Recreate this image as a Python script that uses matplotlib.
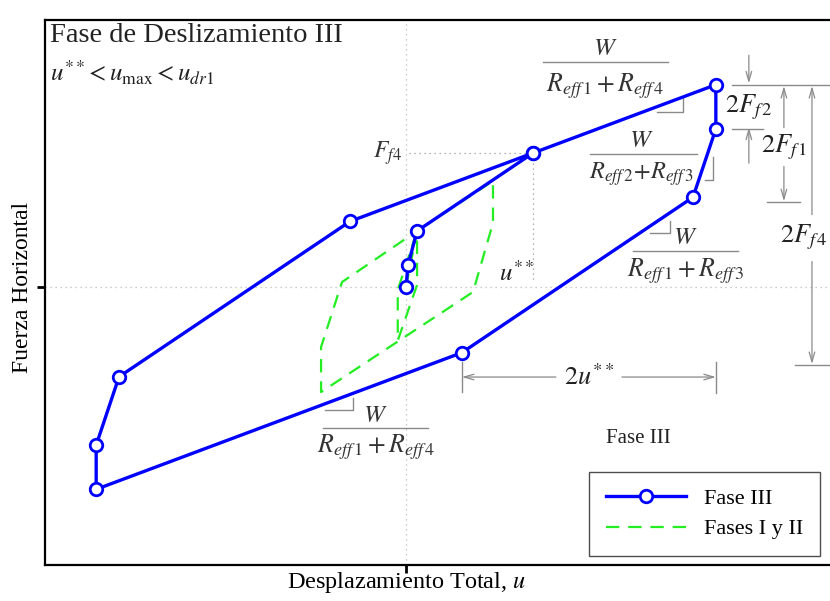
import matplotlib
matplotlib.use("Agg")
import matplotlib.pyplot as plt

plt.rcParams['font.family'] = ['Liberation Serif', 'DejaVu Serif']
plt.rcParams['mathtext.fontset'] = 'stix'

# Phase III loop (u in units of u**, F in units of F_f4)
u_fase3 = [0.0, 0.016, 0.087, 1.0, 2.44, 2.44, 2.26, 0.44, -2.44, -2.44, -2.26, -0.44, 1.0]
f_fase3 = [0.0, 0.164, 0.418, 1.0, 1.51, 1.18, 0.67, -0.49, -1.51, -1.18, -0.67, 0.49, 1.0]

# Phases I and II (green dashed)
u_fase12 = [0.0, 0.087, 0.087, -0.065, -0.065, 0.087, 0.685, 0.685, 0.528, -0.669, -0.669, -0.504, 0.087]
f_fase12 = [0.0, 0.418, 0.015, -0.40, -0.022, 0.418, 0.791, 0.478, -0.037, -0.784, -0.448, 0.037, 0.418]

fig = plt.figure(figsize=(8.30, 6.01), dpi=100)
ax = fig.add_axes([45/830, 36/601, 1 - 45/830, 545/601])
ax.set_xlim(-2.843, 3.339)
ax.set_ylim(-2.075, 1.993)

grey = '#8a8a8a'
blue = '#0000ff'
green = '#22ee22'
txt = '#222222'

# light dotted reference lines
ax.axhline(0, color='#bbbbbb', lw=0.9, ls=(0, (1, 3)), zorder=0)
ax.axvline(0, color='#bbbbbb', lw=0.9, ls=(0, (1, 3)), zorder=0)
ax.plot([0.02, 1.0], [1.0, 1.0], color='#999999', lw=0.9, ls=(0, (1, 3)))
ax.plot([1.0, 1.0], [1.0, 0.05], color='#999999', lw=0.9, ls=(0, (1, 3)))

l12, = ax.plot(u_fase12, f_fase12, color=green, lw=1.6, ls=(0, (6, 4)), label='Fases I y II', zorder=2)
l3, = ax.plot(u_fase3, f_fase3, color=blue, lw=2.4, marker='o', ms=9, mfc='white', mec=blue, mew=2.0,
              label='Fase III', zorder=3)

# spines / ticks
for s in ['left', 'bottom', 'top']:
    ax.spines[s].set_linewidth(1.6)
ax.spines['right'].set_visible(False)
ax.set_xticks([0])
ax.set_yticks([0])
ax.set_xticklabels([])
ax.set_yticklabels([])
ax.tick_params(length=6, width=2, direction='out')

ax.set_xlabel(r'Desplazamiento Total, $u$', fontsize=17.5, va='center')
ax.xaxis.set_label_coords(0.461, -0.033)
ax.set_ylabel('Fuerza Horizontal', fontsize=17, va='center')
ax.yaxis.set_label_coords(-0.029, 0.51)

# titles
ax.text(-2.80, 1.88, 'Fase de Deslizamiento III', fontsize=20.5, ha='left', va='center', color=txt)
ax.text(-2.80, 1.60, r'$u^{**}\!<u_{\max}<u_{dr1}$', fontsize=18, ha='left', va='center', color=txt)

# F_f4 and u** labels
ax.text(-0.03, 1.0, r'$F_{f4}$', fontsize=17, ha='right', va='center', color='#333333')
ax.text(0.874, 0.10, r'$u^{**}$', fontsize=18, ha='center', va='center', color=txt)

# fractions
def frac(x, yW, ybar, yden, x0, x1, den, fs=18.5):
    ax.text(x, yW, r'$W$', fontsize=18, ha='center', va='center', color='#333333')
    ax.plot([x0, x1], [ybar, ybar], color=grey, lw=1.0)
    ax.text(x, yden, den, fontsize=fs, ha='center', va='center', color='#333333')

frac(1.567, 1.78, 1.679, 1.50, 1.079, 2.063, r'$R_{eff\,1}+R_{eff\,4}$')
frac(1.85, 1.09, 0.993, 0.843, 1.449, 2.291, r'$R_{eff\,2}\!+\!R_{eff\,3}$', fs=17.5)
frac(2.20, 0.366, 0.269, 0.12, 1.787, 2.614, r'$R_{eff\,1}+R_{eff\,3}$')
frac(-0.24, -0.96, -1.052, -1.20, -0.654, 0.173, r'$R_{eff\,1}+R_{eff\,4}$')

# slope markers
ax.plot([1.976, 2.18, 2.18], [1.306, 1.306, 1.41], color=grey, lw=1.0)
ax.plot([2.354, 2.417, 2.417], [0.80, 0.80, 0.97], color=grey, lw=1.0)
ax.plot([1.92, 2.08, 2.08], [0.403, 0.403, 0.49], color=grey, lw=1.0)
ax.plot([-0.638, -0.417, -0.417], [-0.918, -0.918, -0.828], color=grey, lw=1.0)

def arrow(x0, y0, x1, y1):
    ax.annotate('', xy=(x1, y1), xytext=(x0, y0),
                arrowprops=dict(arrowstyle='->,head_length=0.7,head_width=0.2', color=grey, lw=0.9,
                                shrinkA=0, shrinkB=0))

# right-hand dimension lines
ax.plot([2.57, 3.34], [1.51, 1.51], color=grey, lw=1.0, clip_on=False)
arrow(2.70, 1.73, 2.70, 1.52)
ax.plot([2.57, 2.81], [1.18, 1.18], color=grey, lw=1.0)
arrow(2.70, 0.925, 2.70, 1.19)
ax.text(2.70, 1.343, r'$2F_{f\,2}$', fontsize=19, ha='center', va='center', color=txt)

arrow(2.976, 1.19, 2.976, 1.50)
arrow(2.976, 0.90, 2.976, 0.64)
ax.plot([2.84, 3.10], [0.634, 0.634], color=grey, lw=1.0)
ax.text(2.976, 1.045, r'$2F_{f\,1}$', fontsize=19, ha='center', va='center', color=txt)

arrow(3.197, 0.54, 3.197, 1.50)
arrow(3.197, 0.19, 3.197, -0.575)
ax.plot([3.06, 3.34], [-0.582, -0.582], color=grey, lw=1.0)
ax.text(3.135, 0.373, r'$2F_{f\,4}$', fontsize=19, ha='center', va='center', color=txt)

# 2u** dimension
ax.plot([0.44, 0.44], [-0.56, -0.78], color=grey, lw=1.0)
ax.plot([2.44, 2.44], [-0.56, -0.79], color=grey, lw=1.0)
arrow(1.18, -0.672, 0.44, -0.672)
arrow(1.70, -0.672, 2.44, -0.672)
ax.text(1.44, -0.672, r'$2u^{**}$', fontsize=19, ha='center', va='center', color=txt)

ax.text(1.83, -1.13, 'Fase III', fontsize=15, ha='center', va='center', color=txt)

leg = ax.legend([l3, l12], ['Fase III', 'Fases I y II'], loc='lower right',
                bbox_to_anchor=(0.987, 0.0165), borderaxespad=0, fontsize=16, frameon=True,
                fancybox=False, edgecolor='#222222', handlelength=3.6, borderpad=0.75,
                labelspacing=0.45, handletextpad=0.8)
leg.get_frame().set_linewidth(1.0)

fig.savefig('out.png', dpi=100)
